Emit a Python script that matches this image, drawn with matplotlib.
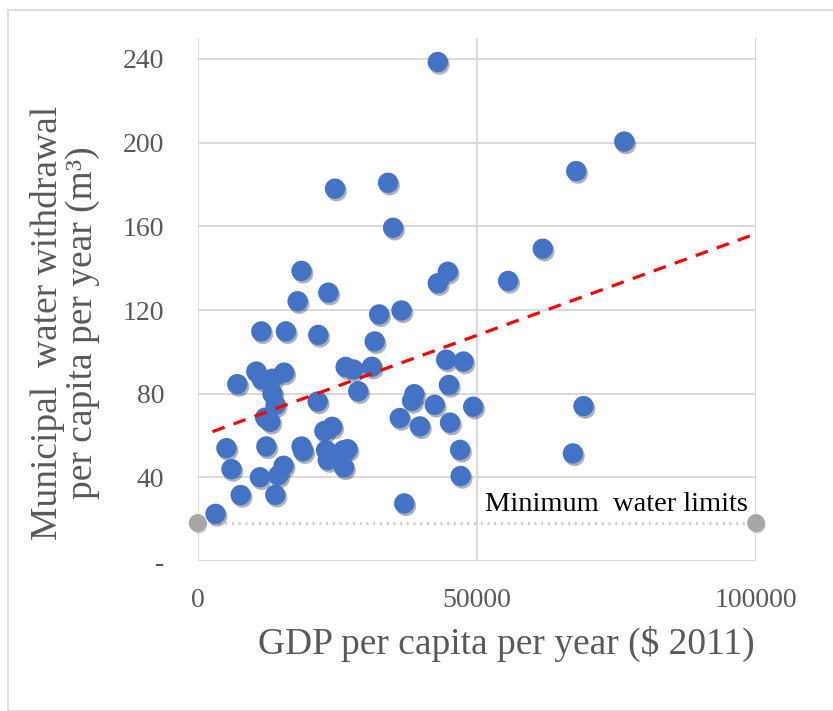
import numpy as np
import matplotlib
matplotlib.use("Agg")
import matplotlib.pyplot as plt
import matplotlib.patheffects as pe
from matplotlib.patches import Rectangle

# GDP per capita ($ 2011) and municipal water withdrawal (m3 per capita per year)
gdp = [43000, 76400, 67800, 24600, 34100, 35000, 61800, 55600, 44800, 43000,
       18600, 17900, 23400, 32500, 36500, 11400, 15800, 21600, 31700, 10500,
       11500, 13400, 7100, 15500, 13400, 13950, 12100, 13000, 21500, 26500,
       27900, 31200, 28750, 44500, 47600, 45000, 38800, 38400, 42450, 49350,
       36200, 39800, 45200, 47000, 47100, 37000, 69100, 67200, 3200, 5150,
       6050, 7700, 11150, 12300, 13900, 14450, 15400, 18600, 18900, 22700,
       24100, 23000, 23300, 26100, 26850, 26200]
water = [238.5, 200.5, 186.4, 178.0, 180.8, 159.3, 149.3, 133.9, 138.3, 132.8,
         138.7, 124.2, 128.3, 117.9, 119.8, 109.8, 109.8, 108.1, 105.0, 90.6,
         86.8, 87.2, 84.6, 90.1, 80.0, 74.6, 68.6, 66.6, 76.3, 92.8,
         91.6, 92.9, 81.2, 96.3, 95.4, 84.2, 79.8, 76.6, 74.7, 73.8,
         68.4, 64.4, 66.2, 53.2, 40.7, 27.6, 74.1, 51.5, 22.6, 54.0,
         44.0, 31.6, 40.1, 54.8, 31.7, 41.0, 45.6, 54.8, 52.5, 62.2,
         64.2, 53.0, 48.3, 53.0, 53.5, 44.8]

# linear trend line end points
trend_x = [2660, 100000]
trend_y = [61.9, 156.5]

# minimum water limit (50 L/day)
limit_x = [0, 100000]
limit_y = [18.25, 18.25]

yticks = [0, 40, 80, 120, 160, 200, 240]
ytick_labels = ["-", "40", "80", "120", "160", "200", "240"]
xticks = [0, 50000, 100000]

plt.rcParams['font.family'] = ['Liberation Serif', 'DejaVu Serif']

fig = plt.figure(figsize=(8.33, 7.11), dpi=100)
ax = fig.add_axes([0.2373, 0.2107, 0.6703, 0.7359])

grid_c = '#D9D9D9'
text_c = '#595959'

# chart frame
fig.patches.append(Rectangle((8 / 833, 0), 1.0, 1 - 10 / 711, transform=fig.transFigure,
                             fill=False, edgecolor='#D9D9D9', linewidth=1.2))

ax.set_xlim(0, 100000)
ax.set_ylim(0, 250)
ax.set_xticks(xticks)
ax.set_xticklabels([str(v) for v in xticks])
ax.set_yticks(yticks)
ax.set_yticklabels(ytick_labels)
ax.tick_params(length=0, labelsize=20, colors=text_c)
ax.tick_params(axis='y', pad=24)
ax.tick_params(axis='x', pad=19)

for v in yticks[1:]:
    ax.axhline(v, color=grid_c, lw=1.4, zorder=0)
for v in xticks:
    ax.axvline(v, color=grid_c, lw=1.4, zorder=0)
for s in ax.spines.values():
    s.set_visible(False)
ax.axhline(0, color=grid_c, lw=1.4, zorder=0)

# minimum water limit
ax.plot(limit_x, limit_y, linestyle=(0, (0.6, 1.6)), color='#C8C8C8', lw=2.2,
        zorder=2, clip_on=False)
ax.scatter(limit_x, limit_y, s=140, color='#A6A6A6', zorder=3, clip_on=False,
           path_effects=[pe.SimplePatchShadow(offset=(1, -1.5), alpha=0.25), pe.Normal()])
ax.text(98600, 21.0, "Minimum  water limits", ha='right', va='bottom',
        fontsize=20.5, color='black')

# data points
ax.scatter(gdp, water, s=215, color='#4472C4', zorder=4, linewidths=0,
           path_effects=[pe.SimplePatchShadow(offset=(1.2, -1.8), alpha=0.35), pe.Normal()])

# trend line
ax.plot(trend_x, trend_y, color='#FF0000', lw=2.3, linestyle=(0, (4, 3)), zorder=5)

ax.set_xlabel("GDP per capita per year ($ 2011)", fontsize=27, color=text_c)
ax.xaxis.set_label_coords(0.997, -0.123, transform=ax.transAxes)
ax.xaxis.label.set_ha('right')
ax.set_ylabel("Municipal  water withdrawal\nper capita per year (m³)", fontsize=27,
              color=text_c, linespacing=1.0)
ax.yaxis.set_label_coords(-0.175, 0.455)

fig.savefig("out.png", dpi=100)
